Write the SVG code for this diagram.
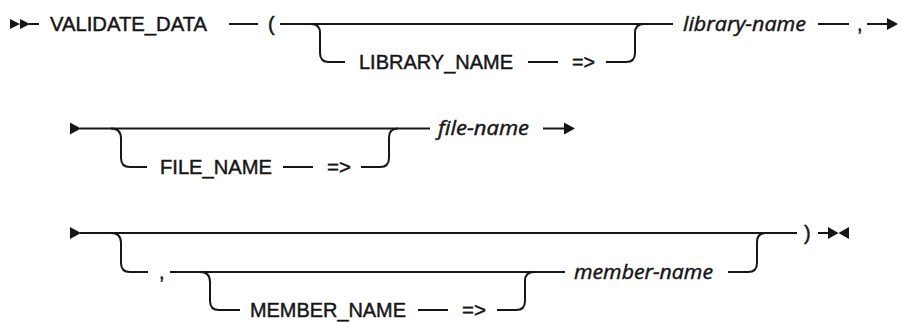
<svg xmlns="http://www.w3.org/2000/svg" width="902" height="322" viewBox="0 0 902 322">
<style>
  .t { font-family: "Liberation Sans", Arial, sans-serif; font-size: 20px; fill: #161616; stroke: #161616; stroke-width: 0.45px; }
  .v { font-family: "Open Sans", "Noto Sans", sans-serif; font-size: 20px; font-style: italic; fill: #161616; stroke: #161616; stroke-width: 0.45px; }
  .ln { fill: none; stroke: #161616; stroke-width: 2; }
  .ah { fill: #161616; stroke: none; }
</style>
<rect width="902" height="322" fill="#ffffff"/>
<g id="connectors">
  <!-- row 1 -->
  <path class="ln" d="M29,24 H39"/>
  <path class="ln" d="M229,24 H258"/>
  <path class="ln" d="M280,24 H673"/>
  <path class="ln" d="M311,24 Q320,24 320,33 V53 Q320,62 329,62 H345"/>
  <path class="ln" d="M528,62 H558"/>
  <path class="ln" d="M606,62 H626 Q635,62 635,53 V33 Q635,24 644,24"/>
  <path class="ln" d="M818,24 H849"/>
  <path class="ln" d="M867,24 H888"/>
  <!-- row 2 -->
  <path class="ln" d="M80,128.5 H430"/>
  <path class="ln" d="M111,128.5 Q121,128.5 121,138.5 V158 Q121,167 130,167 H147"/>
  <path class="ln" d="M283,167 H313"/>
  <path class="ln" d="M361,167 H380 Q389,167 389,158 V137.5 Q389,128.5 398,128.5"/>
  <path class="ln" d="M543,128.5 H565"/>
  <!-- row 3 -->
  <path class="ln" d="M80,233 H797"/>
  <path class="ln" d="M111,233 Q121,233 121,243 V263 Q121,272 130,272 H148"/>
  <path class="ln" d="M170,272 H565"/>
  <path class="ln" d="M200,272 Q210,272 210,282 V301 Q210,310 219,310 H240"/>
  <path class="ln" d="M418,310 H448"/>
  <path class="ln" d="M497,310 H516 Q525,310 525,301 V281 Q525,272 534,272"/>
  <path class="ln" d="M728,272 H748 Q757,272 757,263 V242 Q757,233 766,233"/>
  <path class="ln" d="M818,233 H829"/>
</g>
<g id="start1"><path class="ah" d="M10,19 L20,24 L10,29 Z M20,19 L30,24 L20,29 Z"/></g>
<g id="kw-validate"><text class="t" x="50" y="31" textLength="157" lengthAdjust="spacingAndGlyphs">VALIDATE_DATA</text></g>
<g id="lparen"><text class="t" x="268" y="31">(</text></g>
<g id="kw-library"><text class="t" x="359" y="69" textLength="154" lengthAdjust="spacingAndGlyphs">LIBRARY_NAME</text></g>
<g id="arrow-lib"><text class="t" x="572" y="69" textLength="23" lengthAdjust="spacingAndGlyphs">=&gt;</text></g>
<g id="var-library"><text class="v" x="683" y="31" textLength="123" lengthAdjust="spacingAndGlyphs">library-name</text></g>
<g id="comma1"><text class="t" x="857" y="31">,</text></g>
<g id="cont1"><path class="ah" d="M887,18 L898,24 L887,30 Z"/></g>

<g id="start2"><path class="ah" d="M70,122.5 L81,128.5 L70,134.5 Z"/></g>
<g id="kw-file"><text class="t" x="160" y="174" textLength="112" lengthAdjust="spacingAndGlyphs">FILE_NAME</text></g>
<g id="arrow-file"><text class="t" x="327" y="174" textLength="24" lengthAdjust="spacingAndGlyphs">=&gt;</text></g>
<g id="var-file"><text class="v" x="438" y="135" textLength="91" lengthAdjust="spacingAndGlyphs">file-name</text></g>
<g id="cont2"><path class="ah" d="M564,122.5 L575,128.5 L564,134.5 Z"/></g>

<g id="start3"><path class="ah" d="M70,227 L81,233 L70,239 Z"/></g>
<g id="comma2"><text class="t" x="159" y="279">,</text></g>
<g id="kw-member"><text class="t" x="250" y="317" textLength="156" lengthAdjust="spacingAndGlyphs">MEMBER_NAME</text></g>
<g id="arrow-member"><text class="t" x="462" y="317" textLength="24" lengthAdjust="spacingAndGlyphs">=&gt;</text></g>
<g id="var-member"><text class="v" x="574" y="279" textLength="139" lengthAdjust="spacingAndGlyphs">member-name</text></g>
<g id="rparen"><text class="t" x="804" y="240">)</text></g>
<g id="end"><path class="ah" d="M828,227 L838.5,233 L828,239 Z M849,227 L838.5,233 L849,239 Z"/></g>
</svg>
